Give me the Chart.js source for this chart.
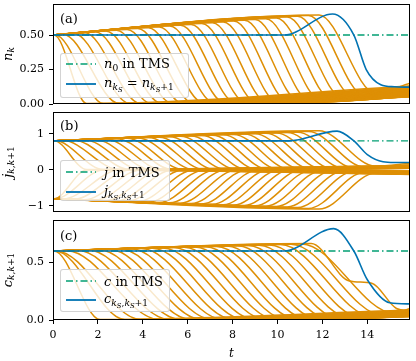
<!DOCTYPE html>
<html>
<head>
<meta charset="utf-8">
<script src="https://cdn.jsdelivr.net/npm/chart.js@4.4.1/dist/chart.umd.min.js"></script>
<style>
  body { margin: 0; background: #fff; }
  #wrap { position: relative; width: 416px; height: 361px; font-family: 'DejaVu Serif', serif; color: #000; }
  canvas { position: absolute; left: 0; }
  .ylab { position: absolute; left: 8px; transform: translate(-50%, -50%) rotate(-90deg); white-space: nowrap; font-size: 13px; }
  .tag { position: absolute; left: 60px; transform: translateY(-50%); font-size: 13px; }
  .legend { position: absolute; left: 60px; box-sizing: border-box; background: rgba(255,255,255,0.8);
            border: 1px solid rgba(200,200,200,0.8); border-radius: 3px; }
  .row { position: absolute; left: 5px; height: 20px; transform: translateY(-50%); display: flex; align-items: center;
         white-space: nowrap; font-size: 13px; }
  .row svg { margin-right: 8px; }
  i { font-style: italic; }
  .s1 { font-size: 70%; vertical-align: -0.3em; }
  .s2 { font-size: 75%; vertical-align: -0.25em; }
</style>
</head>
<body>
<div id="wrap">
  <canvas id="chartA" width="416" height="108" style="top:0"></canvas>
  <canvas id="chartB" width="416" height="108" style="top:108px"></canvas>
  <canvas id="chartC" width="416" height="145" style="top:216px"></canvas>

  <div class="ylab" style="top:54px"><i>n</i><span class="s1"><i>k</i></span></div>
  <div class="ylab" style="top:162px"><i>j</i><span class="s1"><i>k</i>,<i>k</i>+1</span></div>
  <div class="ylab" style="top:270px"><i>c</i><span class="s1"><i>k</i>,<i>k</i>+1</span></div>

  <div class="tag" style="top:18px">(a)</div>
  <div class="tag" style="top:125px">(b)</div>
  <div class="tag" style="top:235px">(c)</div>

  <div class="legend" style="top:53px;width:129px;height:45px">
    <div class="row" style="top:10px"><svg width="30" height="6"><line x1="0" y1="3" x2="30" y2="3" stroke="#029E73" stroke-width="1.5" stroke-dasharray="7 3 1.5 3"/></svg><span><i>n</i><span class="s1">0</span> in TMS</span></div>
    <div class="row" style="top:30px"><svg width="30" height="6"><line x1="0" y1="3" x2="30" y2="3" stroke="#0173B2" stroke-width="1.8"/></svg><span><i>n</i><span class="s1"><i>k</i><span class="s2"><i>S</i></span></span> = <i>n</i><span class="s1"><i>k</i><span class="s2"><i>S</i></span>+1</span></span></div>
  </div>
  <div class="legend" style="top:160px;width:110px;height:41px">
    <div class="row" style="top:11px"><svg width="30" height="6"><line x1="0" y1="3" x2="30" y2="3" stroke="#029E73" stroke-width="1.5" stroke-dasharray="7 3 1.5 3"/></svg><span><i>j</i> in TMS</span></div>
    <div class="row" style="top:31px"><svg width="30" height="6"><line x1="0" y1="3" x2="30" y2="3" stroke="#0173B2" stroke-width="1.8"/></svg><span><i>j</i><span class="s1"><i>k</i><span class="s2"><i>S</i></span>,<i>k</i><span class="s2"><i>S</i></span>+1</span></span></div>
  </div>
  <div class="legend" style="top:269px;width:110px;height:43px">
    <div class="row" style="top:11px"><svg width="30" height="6"><line x1="0" y1="3" x2="30" y2="3" stroke="#029E73" stroke-width="1.5" stroke-dasharray="7 3 1.5 3"/></svg><span><i>c</i> in TMS</span></div>
    <div class="row" style="top:30px"><svg width="30" height="6"><line x1="0" y1="3" x2="30" y2="3" stroke="#0173B2" stroke-width="1.8"/></svg><span><i>c</i><span class="s1"><i>k</i><span class="s2"><i>S</i></span>,<i>k</i><span class="s2"><i>S</i></span>+1</span></span></div>
  </div>
</div>

<script>
const T_END = 15.9;
const xTicks = [0, 2, 4, 6, 8, 10, 12, 14];
const xTickLabels = ['0', '2', '4', '6', '8', '10', '12', '14'];

// (a) n_k
const aTicks = [0, 0.25, 0.5];
const aTickLabels = ['0.00', '0.25', '0.50'];
const aStart = 0.5;
const aPeakT = [0.05, 0.1, 0.45, 0.93, 1.4, 1.88, 2.35, 2.83, 3.3, 3.78, 4.25, 4.73, 5.2, 5.68, 6.15, 6.63, 7.1, 7.58, 8.05, 8.53, 9.0, 9.48, 9.95, 10.43, 10.9, 11.38, 11.85];
const aPeakV = [0.5, 0.501, 0.506, 0.512, 0.518, 0.524, 0.529, 0.535, 0.541, 0.547, 0.553, 0.559, 0.565, 0.571, 0.577, 0.583, 0.589, 0.595, 0.601, 0.607, 0.613, 0.618, 0.624, 0.63, 0.636, 0.642, 0.645];
const aLowT = [1.5, 2.25, 2.95, 3.43, 3.9, 4.38, 4.85, 5.33, 5.8, 6.28, 6.75, 7.23, 7.7, 8.18, 8.65, 9.13, 9.6, 10.08, 10.55, 11.03, 11.5, 11.98, 12.45, 12.93, 13.4, 13.88, 14.35];
const aLowV = [0.003, 0.003, 0.003, 0.003, 0.003, 0.003, 0.003, 0.003, 0.003, 0.003, 0.003, 0.003, 0.003, 0.003, 0.003, 0.003, 0.003, 0.003, 0.006, 0.01, 0.015, 0.02, 0.03, 0.04, 0.05, 0.06, 0.08];
const aEndV = [0.13, 0.123, 0.117, 0.112, 0.108, 0.104, 0.1, 0.095, 0.091, 0.087, 0.082, 0.078, 0.074, 0.069, 0.065, 0.061, 0.057, 0.052, 0.054, 0.054, 0.055, 0.055, 0.061, 0.067, 0.1, 0.13, 0.15];
const aTms = 0.5;
const aBlueT = [0, 10.3, 12.45, 13.4, 13.95, 14.6, 15.2, 15.9];
const aBlueV = [0.5, 0.5, 0.652, 0.5, 0.25, 0.14, 0.125, 0.122];

// (b) j_{k,k+1}
const bTicks = [-1, 0, 1];
const bTickLabels = ['\u22121', '0', '1'];
const bUpStart = 0.8;
const bDownStart = -0.8;
const bPeakT = [0.05, 0.1, 0.45, 0.93, 1.4, 1.88, 2.35, 2.83, 3.3, 3.78, 4.25, 4.73, 5.2, 5.68, 6.15, 6.63, 7.1, 7.58, 8.05, 8.53, 9.0, 9.48, 9.95, 10.43, 10.9, 11.38, 11.85];
const bLowT = [1.5, 2.25, 2.95, 3.43, 3.9, 4.38, 4.85, 5.33, 5.8, 6.28, 6.75, 7.23, 7.7, 8.18, 8.65, 9.13, 9.6, 10.08, 10.55, 11.03, 11.5, 11.98, 12.45, 12.93, 13.4, 13.88, 14.35];
const bUpPeakV = [0.801, 0.802, 0.81, 0.82, 0.831, 0.841, 0.852, 0.862, 0.873, 0.883, 0.894, 0.904, 0.914, 0.925, 0.935, 0.946, 0.956, 0.967, 0.977, 0.988, 0.998, 1.009, 1.019, 1.03, 1.04, 1.06, 1.08];
const bDownPeakV = [-0.801, -0.802, -0.81, -0.82, -0.831, -0.841, -0.852, -0.862, -0.873, -0.883, -0.894, -0.904, -0.914, -0.925, -0.935, -0.946, -0.956, -0.967, -0.977, -0.988, -0.998, -1.009, -1.019, -1.03, -1.045, -1.07, -1.09];
const bUpLowV = [0.005, 0.005, 0.005, 0.005, 0.005, 0.005, 0.005, 0.005, 0.005, 0.005, 0.005, 0.005, 0.005, 0.005, 0.005, 0.005, 0.005, 0.005, 0.01, 0.015, 0.02, 0.025, 0.03, 0.04, 0.05, 0.07, 0.1];
const bDownLowV = [-0.005, -0.005, -0.005, -0.005, -0.005, -0.005, -0.005, -0.005, -0.005, -0.005, -0.005, -0.005, -0.005, -0.005, -0.005, -0.005, -0.005, -0.005, -0.01, -0.015, -0.02, -0.025, -0.03, -0.04, -0.05, -0.07, -0.1];
const bUpEndV = [0.12, 0.115, 0.11, 0.105, 0.1, 0.095, 0.09, 0.086, 0.082, 0.078, 0.074, 0.07, 0.066, 0.062, 0.058, 0.054, 0.05, 0.046, 0.044, 0.044, 0.046, 0.05, 0.06, 0.08, 0.1, 0.14, 0.18];
const bDownEndV = [-0.13, -0.125, -0.12, -0.114, -0.108, -0.102, -0.097, -0.092, -0.087, -0.082, -0.077, -0.072, -0.067, -0.062, -0.057, -0.052, -0.048, -0.045, -0.043, -0.043, -0.045, -0.05, -0.055, -0.06, -0.07, -0.08, -0.1];
const bTms = 0.8;
const bBlueT = [0, 10.5, 12.65, 13.4, 14.0, 14.7, 15.2, 15.9];
const bBlueV = [0.8, 0.8, 1.07, 0.8, 0.42, 0.22, 0.2, 0.2];

// (c) c_{k,k+1}
const cTicks = [0, 0.5];
const cTickLabels = ['0.0', '0.5'];
const cStart = 0.6;
const cPeakT = [0.05, 0.1, 0.15, 0.63, 1.1, 1.58, 2.05, 2.53, 3.0, 3.48, 3.95, 4.43, 4.9, 5.38, 5.85, 6.33, 6.8, 7.28, 7.75, 8.23, 8.7, 9.18, 9.65, 10.13, 10.6, 11.08];
const cPeakV = [0.6, 0.601, 0.601, 0.603, 0.606, 0.609, 0.611, 0.614, 0.617, 0.619, 0.622, 0.624, 0.627, 0.63, 0.632, 0.635, 0.637, 0.64, 0.643, 0.645, 0.648, 0.65, 0.653, 0.656, 0.658, 0.662];
const cLowT = [2.1, 3.2, 3.9, 4.73, 5.2, 5.68, 6.15, 6.63, 7.1, 7.58, 8.05, 8.53, 9.0, 9.48, 9.95, 10.43, 10.9, 11.38, 11.85, 12.33, 12.8, 13.28, 13.75, 14.23, 14.7, 15.18];
const cLowV = [0.004, 0.004, 0.004, 0.004, 0.004, 0.004, 0.004, 0.004, 0.004, 0.004, 0.004, 0.004, 0.004, 0.004, 0.004, 0.004, 0.004, 0.004, 0.006, 0.008, 0.01, 0.015, 0.02, 0.03, 0.04, 0.06];
const cEndV = [0.087, 0.08, 0.076, 0.071, 0.068, 0.065, 0.063, 0.06, 0.057, 0.054, 0.051, 0.048, 0.045, 0.043, 0.04, 0.037, 0.034, 0.031, 0.03, 0.03, 0.035, 0.04, 0.045, 0.06, 0.08, 0.1];
const cLastT = [0, 11.5, 13.2, 14.2, 15.3, 15.9];
const cLastV = [0.6, 0.665, 0.34, 0.32, 0.1, 0.08];
const cTms = 0.6;
const cBlueT = [0, 10.3, 12.5, 13.4, 14.0, 15.0, 15.9];
const cBlueV = [0.6, 0.6, 0.795, 0.6, 0.35, 0.15, 0.14];

const ORANGE = '#DE8F05';
const BLUE = '#0173B2';
const GREEN = '#029E73';

Chart.defaults.font.family = "'DejaVu Serif', serif";
Chart.defaults.font.size = 11;
Chart.defaults.color = '#000';

function zip(ts, vs) {
  return ts.map((t, i) => ({ x: t, y: vs[i] }));
}

function orangeCurves(start, peakT, peakV, lowT, lowV, endV) {
  return peakT.map((pt, i) => ({
    data: [
      { x: 0, y: start },
      { x: pt, y: peakV[i] },
      { x: lowT[i], y: lowV[i] },
      { x: T_END, y: endV[i] },
    ],
    borderColor: ORANGE,
    borderWidth: 1.5,
    pointRadius: 0,
    cubicInterpolationMode: 'monotone',
    order: 2,
  }));
}

function tmsLine(v) {
  return {
    data: [{ x: 0, y: v }, { x: T_END, y: v }],
    borderColor: GREEN,
    borderWidth: 1.4,
    borderDash: [7, 3, 1.5, 3],
    pointRadius: 0,
    order: 1,
  };
}

function blueLine(ts, vs) {
  return {
    data: zip(ts, vs),
    borderColor: BLUE,
    borderWidth: 1.6,
    pointRadius: 0,
    cubicInterpolationMode: 'monotone',
    order: 0,
  };
}

// box round each panel
const framePlugin = {
  id: 'frame',
  afterDatasetsDraw(chart) {
    const { ctx, chartArea } = chart;
    ctx.save();
    ctx.strokeStyle = '#000';
    ctx.lineWidth = 1;
    ctx.strokeRect(chartArea.left + 0.5, chartArea.top + 0.5,
      chartArea.right - chartArea.left - 1, chartArea.bottom - chartArea.top - 1);
    ctx.restore();
  },
};

function makePanel(id, datasets, yMin, yMax, yTicks, yLabels, showX, padBottom) {
  new Chart(document.getElementById(id), {
    type: 'line',
    data: { datasets },
    plugins: [framePlugin],
    options: {
      responsive: false,
      animation: false,
      events: [],
      layout: { padding: { top: 4, right: 6, bottom: padBottom, left: 0 } },
      plugins: { legend: { display: false }, tooltip: { enabled: false } },
      scales: {
        x: {
          type: 'linear',
          min: 0,
          max: T_END,
          display: showX,
          afterBuildTicks: (s) => { s.ticks = xTicks.map((v) => ({ value: v })); },
          afterFit: (s) => {
            s.height = showX ? 41 : 0;
            s.paddingLeft = 0;
            s.paddingRight = 0;
          },
          ticks: { callback: (v, i) => xTickLabels[i], padding: 5, maxRotation: 0 },
          grid: { drawOnChartArea: false, tickLength: 4, color: '#000' },
          border: { display: false },
          title: { display: true, text: 't', font: { size: 12, style: 'italic' }, padding: { top: 0, bottom: 0 } },
        },
        y: {
          type: 'linear',
          min: yMin,
          max: yMax,
          afterBuildTicks: (s) => { s.ticks = yTicks.map((v) => ({ value: v })); },
          afterFit: (s) => {
            s.width = 53;
            s.paddingTop = 0;
            s.paddingBottom = 0;
          },
          ticks: { callback: (v, i) => yLabels[i], padding: 5 },
          grid: { drawOnChartArea: false, tickLength: 4, color: '#000' },
          border: { display: false },
        },
      },
    },
  });
}

makePanel('chartA', [
  blueLine(aBlueT, aBlueV),
  tmsLine(aTms),
  ...orangeCurves(aStart, aPeakT, aPeakV, aLowT, aLowV, aEndV),
], 0, 0.725, aTicks, aTickLabels, false, 4);

makePanel('chartB', [
  blueLine(bBlueT, bBlueV),
  tmsLine(bTms),
  ...orangeCurves(bUpStart, bPeakT, bUpPeakV, bLowT, bUpLowV, bUpEndV),
  ...orangeCurves(bDownStart, bPeakT, bDownPeakV, bLowT, bDownLowV, bDownEndV),
], -1.17, 1.6, bTicks, bTickLabels, false, 4);

makePanel('chartC', [
  blueLine(cBlueT, cBlueV),
  tmsLine(cTms),
  ...orangeCurves(cStart, cPeakT, cPeakV, cLowT, cLowV, cEndV),
  { data: zip(cLastT, cLastV), borderColor: ORANGE, borderWidth: 1.5, pointRadius: 0, cubicInterpolationMode: 'monotone', order: 2 },
], 0, 0.87, cTicks, cTickLabels, true, 0);
</script>
</body>
</html>
